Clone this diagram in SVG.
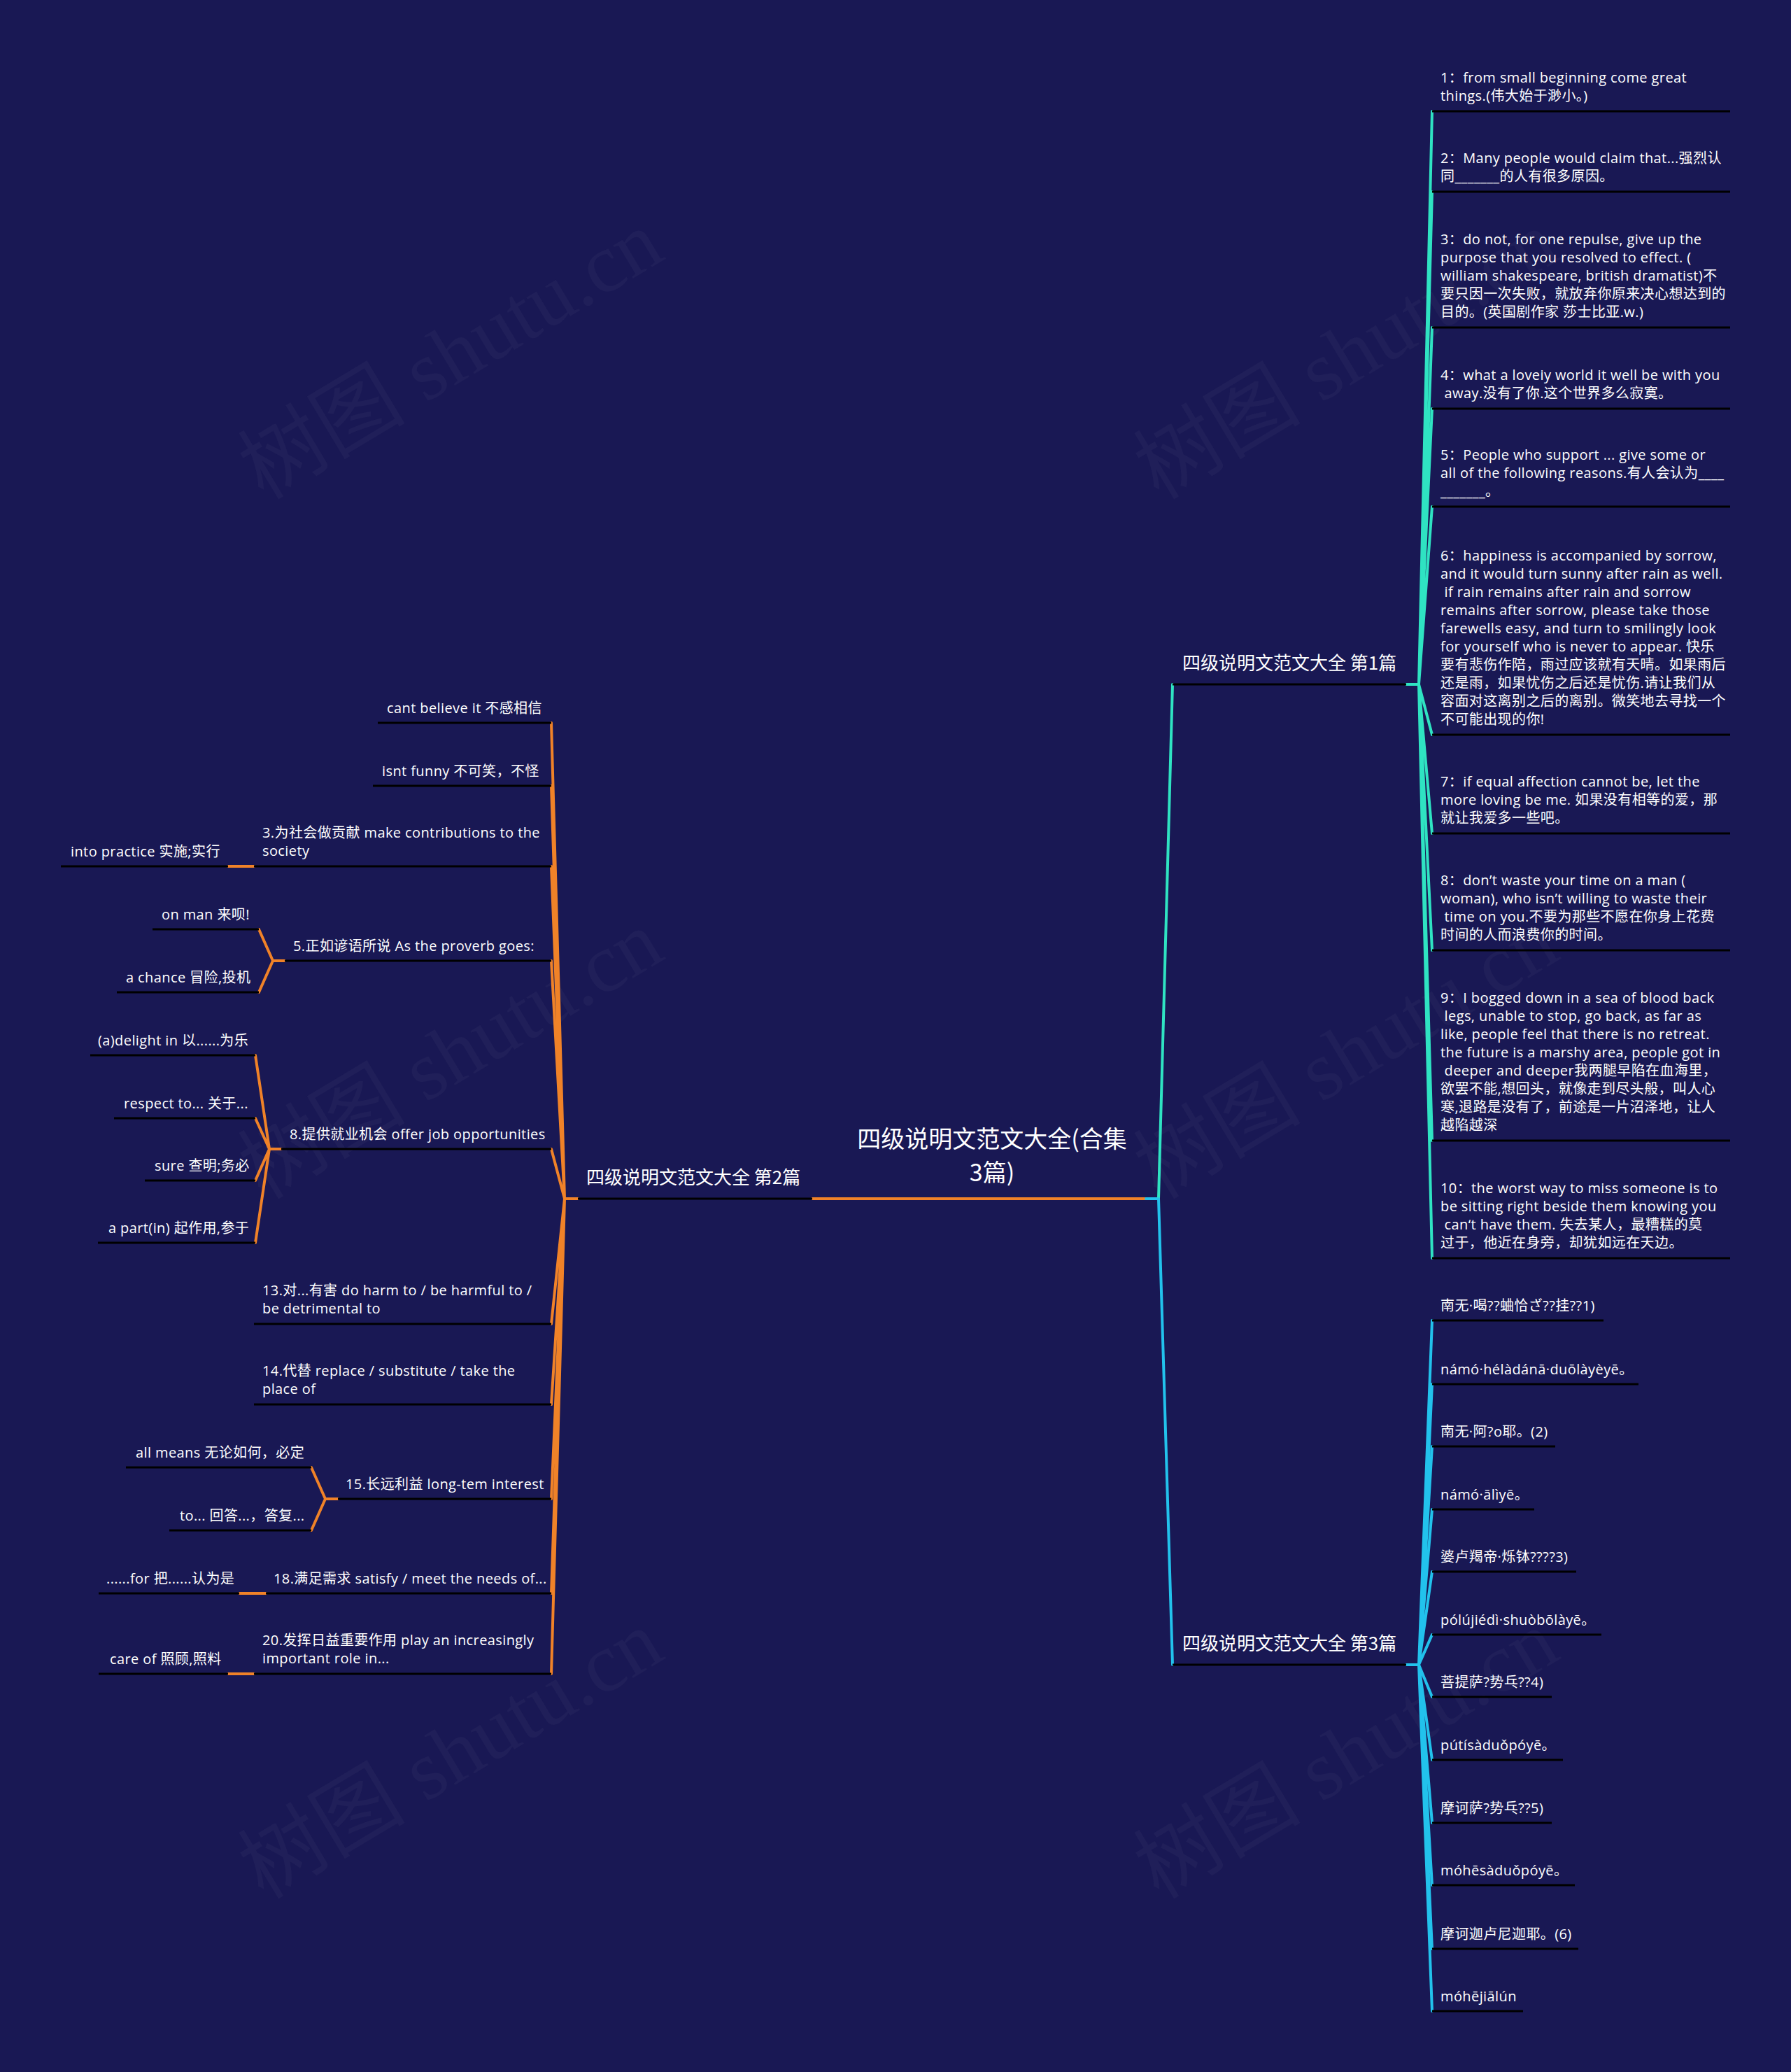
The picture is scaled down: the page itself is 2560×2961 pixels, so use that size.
<svg xmlns="http://www.w3.org/2000/svg" width="2560" height="2961" viewBox="0 0 2560 2961">
<style>
.t{font-family:"Open Sans","Noto Sans CJK SC",sans-serif;font-size:20px;letter-spacing:0.4px;fill:#ffffff;white-space:pre}
.b{font-family:"Noto Sans CJK SC",sans-serif;font-size:26px;letter-spacing:0}
.r{font-family:"Noto Sans CJK SC",sans-serif;font-size:34px;letter-spacing:0}
.ul{stroke:#000000;stroke-width:3}
.co{fill:none;stroke-width:4;stroke-linecap:round}
.or{stroke:#f08228}
.c1{stroke:#2fe3c2}
.c3{stroke:#22c2ec}
.wm{font-family:"Liberation Serif","Noto Sans CJK SC",serif;font-size:120px;fill:#8080a0;fill-opacity:0.07}
</style>
<rect x="0" y="0" width="2560" height="2961" fill="#191854"/>
<g id="watermarks">
<text class="wm" text-anchor="middle" transform="translate(665,542) rotate(-31)">树图 shutu.cn</text>
<text class="wm" text-anchor="middle" transform="translate(1945,542) rotate(-31)">树图 shutu.cn</text>
<text class="wm" text-anchor="middle" transform="translate(665,1542) rotate(-31)">树图 shutu.cn</text>
<text class="wm" text-anchor="middle" transform="translate(1945,1542) rotate(-31)">树图 shutu.cn</text>
<text class="wm" text-anchor="middle" transform="translate(665,2542) rotate(-31)">树图 shutu.cn</text>
<text class="wm" text-anchor="middle" transform="translate(1945,2542) rotate(-31)">树图 shutu.cn</text>
</g>
<g id="connectors">
<line class="co or" x1="1161" y1="1713" x2="1638" y2="1713"/>
<line class="co c3" x1="1638" y1="1713" x2="1656" y2="1713"/>
<line class="co c1" x1="1656" y1="1713" x2="1676" y2="978" stroke-width="5"/>
<line class="co c3" x1="1656" y1="1713" x2="1676" y2="2379" stroke-width="5"/>
<path class="co c1" d="M2010 978H2028 M2028 978L2047 159 M2028 978L2047 274 M2028 978L2047 468 M2028 978L2047 584 M2028 978L2047 724 M2028 978L2047 1050 M2028 978L2047 1191 M2028 978L2047 1358 M2028 978L2047 1630 M2028 978L2047 1798"/>
<path class="co c3" d="M2010 2379H2028 M2028 2379L2047 1887 M2028 2379L2047 1978 M2028 2379L2047 2067 M2028 2379L2047 2157 M2028 2379L2047 2246 M2028 2379L2047 2336 M2028 2379L2047 2425 M2028 2379L2047 2515 M2028 2379L2047 2605 M2028 2379L2047 2694 M2028 2379L2047 2785 M2028 2379L2047 2874"/>
<path class="co or" d="M826 1713H807 M807 1713L788 1033 M807 1713L788 1123 M807 1713L788 1238 M807 1713L788 1373 M807 1713L788 1642 M807 1713L788 1892 M807 1713L788 2007 M807 1713L788 2142 M807 1713L788 2277 M807 1713L788 2392"/>
<path class="co or" d="M363 1238H326 M407 1373H390 M390 1373L370 1328 M390 1373L370 1418 M402 1642H385 M385 1642L365 1508 M385 1642L365 1598 M385 1642L365 1687 M385 1642L365 1776 M483 2142H465 M465 2142L445 2097 M465 2142L445 2187 M380 2277H342 M363 2392H326"/>
</g>
<g id="root">
<text class="t r" x="1418" y="1640" text-anchor="middle">四级说明文范文大全(合集</text>
<text class="t r" x="1418" y="1688" text-anchor="middle">3篇)</text>
</g>
<g id="branch1">
<line class="ul" x1="1676" y1="978" x2="2010" y2="978"/>
<text class="t b" x="1690" y="957">四级说明文范文大全 第1篇</text>
</g>
<g id="branch2">
<line class="ul" x1="826" y1="1713" x2="1161" y2="1713"/>
<text class="t b" x="838" y="1692">四级说明文范文大全 第2篇</text>
</g>
<g id="branch3">
<line class="ul" x1="1676" y1="2379" x2="2010" y2="2379"/>
<text class="t b" x="1690" y="2358">四级说明文范文大全 第3篇</text>
</g>
<g id="b1-1"><line class="ul" x1="2047" y1="159" x2="2473" y2="159"/>
<text class="t" x="2059" y="118">1：from small beginning come great</text>
<text class="t" x="2059" y="144">things.(伟大始于渺小。)</text></g>
<g id="b1-2"><line class="ul" x1="2047" y1="274" x2="2473" y2="274"/>
<text class="t" x="2059" y="233">2：Many people would claim that...强烈认</text>
<text class="t" x="2059" y="259">同_______的人有很多原因。</text></g>
<g id="b1-3"><line class="ul" x1="2047" y1="468" x2="2473" y2="468"/>
<text class="t" x="2059" y="349">3：do not, for one repulse, give up the</text>
<text class="t" x="2059" y="375">purpose that you resolved to effect. (</text>
<text class="t" x="2059" y="401">william shakespeare, british dramatist)不</text>
<text class="t" x="2059" y="427">要只因一次失败，就放弃你原来决心想达到的</text>
<text class="t" x="2059" y="453">目的。(英国剧作家 莎士比亚.w.)</text></g>
<g id="b1-4"><line class="ul" x1="2047" y1="584" x2="2473" y2="584"/>
<text class="t" x="2059" y="543">4：what a loveiy world it well be with you</text>
<text class="t" x="2059" y="569"> away.没有了你.这个世界多么寂寞。</text></g>
<g id="b1-5"><line class="ul" x1="2047" y1="724" x2="2473" y2="724"/>
<text class="t" x="2059" y="657">5：People who support ... give some or</text>
<text class="t" x="2059" y="683">all of the following reasons.有人会认为____</text>
<text class="t" x="2059" y="709">_______。</text></g>
<g id="b1-6"><line class="ul" x1="2047" y1="1050" x2="2473" y2="1050"/>
<text class="t" x="2059" y="801">6：happiness is accompanied by sorrow,</text>
<text class="t" x="2059" y="827">and it would turn sunny after rain as well.</text>
<text class="t" x="2059" y="853"> if rain remains after rain and sorrow</text>
<text class="t" x="2059" y="879">remains after sorrow, please take those</text>
<text class="t" x="2059" y="905">farewells easy, and turn to smilingly look</text>
<text class="t" x="2059" y="931">for yourself who is never to appear. 快乐</text>
<text class="t" x="2059" y="957">要有悲伤作陪，雨过应该就有天晴。如果雨后</text>
<text class="t" x="2059" y="983">还是雨，如果忧伤之后还是忧伤.请让我们从</text>
<text class="t" x="2059" y="1009">容面对这离别之后的离别。微笑地去寻找一个</text>
<text class="t" x="2059" y="1035">不可能出现的你!</text></g>
<g id="b1-7"><line class="ul" x1="2047" y1="1191" x2="2473" y2="1191"/>
<text class="t" x="2059" y="1124">7：if equal affection cannot be, let the</text>
<text class="t" x="2059" y="1150">more loving be me. 如果没有相等的爱，那</text>
<text class="t" x="2059" y="1176">就让我爱多一些吧。</text></g>
<g id="b1-8"><line class="ul" x1="2047" y1="1358" x2="2473" y2="1358"/>
<text class="t" x="2059" y="1265">8：don’t waste your time on a man (</text>
<text class="t" x="2059" y="1291">woman), who isn’t willing to waste their</text>
<text class="t" x="2059" y="1317"> time on you.不要为那些不愿在你身上花费</text>
<text class="t" x="2059" y="1343">时间的人而浪费你的时间。</text></g>
<g id="b1-9"><line class="ul" x1="2047" y1="1630" x2="2473" y2="1630"/>
<text class="t" x="2059" y="1433">9：I bogged down in a sea of blood back</text>
<text class="t" x="2059" y="1459"> legs, unable to stop, go back, as far as</text>
<text class="t" x="2059" y="1485">like, people feel that there is no retreat.</text>
<text class="t" x="2059" y="1511">the future is a marshy area, people got in</text>
<text class="t" x="2059" y="1537"> deeper and deeper我两腿早陷在血海里，</text>
<text class="t" x="2059" y="1563">欲罢不能,想回头，就像走到尽头般，叫人心</text>
<text class="t" x="2059" y="1589">寒,退路是没有了，前途是一片沼泽地，让人</text>
<text class="t" x="2059" y="1615">越陷越深</text></g>
<g id="b1-10"><line class="ul" x1="2047" y1="1798" x2="2473" y2="1798"/>
<text class="t" x="2059" y="1705">10：the worst way to miss someone is to</text>
<text class="t" x="2059" y="1731">be sitting right beside them knowing you</text>
<text class="t" x="2059" y="1757"> can‘t have them. 失去某人，最糟糕的莫</text>
<text class="t" x="2059" y="1783">过于，他近在身旁，却犹如远在天边。</text></g>
<g id="b3-1"><line class="ul" x1="2047" y1="1887" x2="2292" y2="1887"/><text class="t" x="2059" y="1873">南无·喝??蛐恰ざ??挂??1)</text></g>
<g id="b3-2"><line class="ul" x1="2047" y1="1978" x2="2342" y2="1978"/><text class="t" x="2059" y="1964">námó·hélàdánā·duōlàyèyē。</text></g>
<g id="b3-3"><line class="ul" x1="2047" y1="2067" x2="2223" y2="2067"/><text class="t" x="2059" y="2053">南无·阿?o耶。(2)</text></g>
<g id="b3-4"><line class="ul" x1="2047" y1="2157" x2="2193" y2="2157"/><text class="t" x="2059" y="2143">námó·ālìyē。</text></g>
<g id="b3-5"><line class="ul" x1="2047" y1="2246" x2="2253" y2="2246"/><text class="t" x="2059" y="2232">婆卢羯帝·烁钵????3)</text></g>
<g id="b3-6"><line class="ul" x1="2047" y1="2336" x2="2289" y2="2336"/><text class="t" x="2059" y="2322">pólújiédì·shuòbōlàyē。</text></g>
<g id="b3-7"><line class="ul" x1="2047" y1="2425" x2="2218" y2="2425"/><text class="t" x="2059" y="2411">菩提萨?势乓??4)</text></g>
<g id="b3-8"><line class="ul" x1="2047" y1="2515" x2="2234" y2="2515"/><text class="t" x="2059" y="2501">pútísàduǒpóyē。</text></g>
<g id="b3-9"><line class="ul" x1="2047" y1="2605" x2="2218" y2="2605"/><text class="t" x="2059" y="2591">摩诃萨?势乓??5)</text></g>
<g id="b3-10"><line class="ul" x1="2047" y1="2694" x2="2251" y2="2694"/><text class="t" x="2059" y="2680">móhēsàduǒpóyē。</text></g>
<g id="b3-11"><line class="ul" x1="2047" y1="2785" x2="2256" y2="2785"/><text class="t" x="2059" y="2771">摩诃迦卢尼迦耶。(6)</text></g>
<g id="b3-12"><line class="ul" x1="2047" y1="2874" x2="2177" y2="2874"/><text class="t" x="2059" y="2860">móhējiālún</text></g>
<g id="b2-1"><line class="ul" x1="540" y1="1033" x2="788" y2="1033"/><text class="t" x="553" y="1019">cant believe it 不感相信</text></g>
<g id="b2-2"><line class="ul" x1="533" y1="1123" x2="788" y2="1123"/><text class="t" x="546" y="1109">isnt funny 不可笑，不怪</text></g>
<g id="b2-3"><line class="ul" x1="363" y1="1238" x2="788" y2="1238"/>
<text class="t" x="375" y="1197">3.为社会做贡献 make contributions to the</text>
<text class="t" x="375" y="1223">society</text></g>
<g id="b2-3-1"><line class="ul" x1="87" y1="1238" x2="326" y2="1238"/><text class="t" x="101" y="1224">into practice 实施;实行</text></g>
<g id="b2-4"><line class="ul" x1="407" y1="1373" x2="788" y2="1373"/><text class="t" x="419" y="1359">5.正如谚语所说 As the proverb goes:</text></g>
<g id="b2-4-1"><line class="ul" x1="218" y1="1328" x2="370" y2="1328"/><text class="t" x="231" y="1314">on man 来呗!</text></g>
<g id="b2-4-2"><line class="ul" x1="167" y1="1418" x2="370" y2="1418"/><text class="t" x="180" y="1404">a chance 冒险,投机</text></g>
<g id="b2-5"><line class="ul" x1="402" y1="1642" x2="788" y2="1642"/><text class="t" x="414" y="1628">8.提供就业机会 offer job opportunities</text></g>
<g id="b2-5-1"><line class="ul" x1="129" y1="1508" x2="365" y2="1508"/><text class="t" x="140" y="1494">(a)delight in 以......为乐</text></g>
<g id="b2-5-2"><line class="ul" x1="163" y1="1598" x2="365" y2="1598"/><text class="t" x="177" y="1584">respect to... 关于...</text></g>
<g id="b2-5-3"><line class="ul" x1="207" y1="1687" x2="365" y2="1687"/><text class="t" x="221" y="1673">sure 查明;务必</text></g>
<g id="b2-5-4"><line class="ul" x1="140" y1="1776" x2="365" y2="1776"/><text class="t" x="155" y="1762">a part(in) 起作用,参于</text></g>
<g id="b2-6"><line class="ul" x1="363" y1="1892" x2="788" y2="1892"/>
<text class="t" x="375" y="1851">13.对...有害 do harm to / be harmful to /</text>
<text class="t" x="375" y="1877">be detrimental to</text></g>
<g id="b2-7"><line class="ul" x1="363" y1="2007" x2="788" y2="2007"/>
<text class="t" x="375" y="1966">14.代替 replace / substitute / take the</text>
<text class="t" x="375" y="1992">place of</text></g>
<g id="b2-8"><line class="ul" x1="483" y1="2142" x2="788" y2="2142"/><text class="t" x="494" y="2128">15.长远利益 long-tem interest</text></g>
<g id="b2-8-1"><line class="ul" x1="180" y1="2097" x2="445" y2="2097"/><text class="t" x="194" y="2083">all means 无论如何，必定</text></g>
<g id="b2-8-2"><line class="ul" x1="242" y1="2187" x2="445" y2="2187"/><text class="t" x="257" y="2173">to... 回答...，答复...</text></g>
<g id="b2-9"><line class="ul" x1="380" y1="2277" x2="788" y2="2277"/><text class="t" x="391" y="2263">18.满足需求 satisfy / meet the needs of...</text></g>
<g id="b2-9-1"><line class="ul" x1="141" y1="2277" x2="342" y2="2277"/><text class="t" x="152" y="2263">......for 把......认为是</text></g>
<g id="b2-10"><line class="ul" x1="363" y1="2392" x2="788" y2="2392"/>
<text class="t" x="375" y="2351">20.发挥日益重要作用 play an increasingly</text>
<text class="t" x="375" y="2377">important role in...</text></g>
<g id="b2-10-1"><line class="ul" x1="141" y1="2392" x2="326" y2="2392"/><text class="t" x="157" y="2378">care of 照顾,照料</text></g>
</svg>
